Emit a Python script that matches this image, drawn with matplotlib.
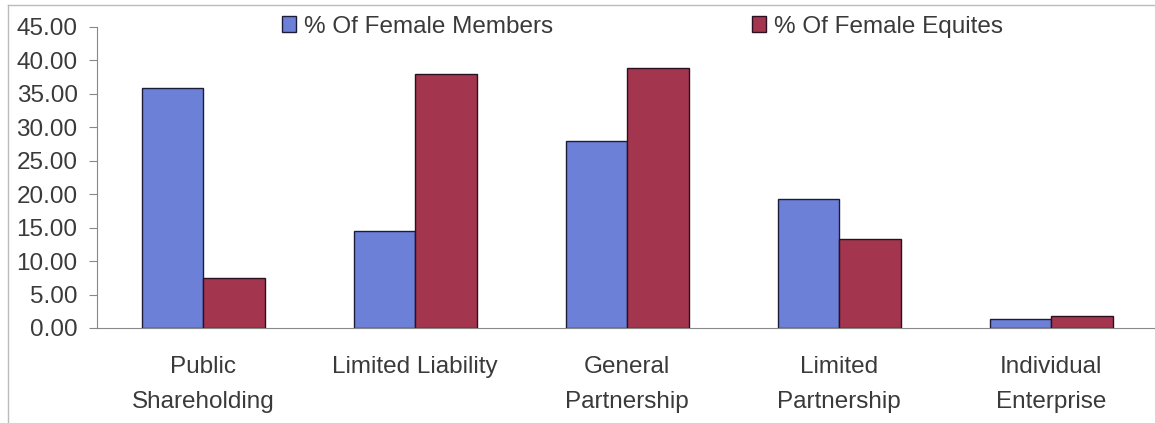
import numpy as np
import matplotlib.pyplot as plt
from matplotlib.lines import Line2D

categories = ["Public\nShareholding", "Limited Liability", "General\nPartnership",
              "Limited\nPartnership", "Individual\nEnterprise"]
female_members = [35.9, 14.5, 28.0, 19.2, 1.3]
female_equities = [7.5, 37.9, 38.8, 13.3, 1.8]
series_names = ["% Of Female Members", "% Of Female Equites"]

plt.rcParams['font.family'] = ['Liberation Sans', 'DejaVu Sans']
fs = 17.5

fig = plt.figure(figsize=(11.55, 4.23), dpi=100)
ax = fig.add_axes([0.084, 0.2246, 0.918, 0.712])

x = np.arange(len(categories))
w = 0.29
b1 = ax.bar(x - w / 2, female_members, w, color="#6c80d8", edgecolor="#1c1c3a", linewidth=1.0,
            label=series_names[0])
b2 = ax.bar(x + w / 2, female_equities, w, color="#a3354f", edgecolor="#2a1020", linewidth=1.0,
            label=series_names[1])

ax.set_xlim(-0.5, 4.5)
ax.set_ylim(0, 45)
ax.set_yticks(np.arange(0, 46, 5))
ax.set_yticklabels([f"{v:.2f}" for v in np.arange(0, 46, 5)], fontsize=fs, color="#3a3a3a")
ax.set_xticks(x)
ax.set_xticklabels(categories, fontsize=fs, color="#3a3a3a", linespacing=1.75)
ax.tick_params(axis="x", length=0, pad=20)
ax.tick_params(axis="y", length=6, color="#888888", pad=8)

for s in ["top", "right"]:
    ax.spines[s].set_visible(False)
ax.spines["left"].set_color("#888888")
ax.spines["bottom"].set_color("#888888")

# legend entries spread along the top like the original
fig.legend(handles=[b1], loc="center left", bbox_to_anchor=(0.244, 0.937), frameon=False,
           fontsize=fs, handlelength=0.6, handleheight=0.6, handletextpad=0.3,
           borderaxespad=0, borderpad=0, labelcolor="#3a3a3a")
fig.legend(handles=[b2], loc="center left", bbox_to_anchor=(0.651, 0.937), frameon=False,
           fontsize=fs, handlelength=0.6, handleheight=0.6, handletextpad=0.3,
           borderaxespad=0, borderpad=0, labelcolor="#3a3a3a")

# faint border of the scanned chart area
fig.add_artist(Line2D([0.007, 1.0], [0.988, 0.988], color="#bbbbbb", lw=1.0, transform=fig.transFigure))
fig.add_artist(Line2D([0.007, 0.007], [0.0, 0.988], color="#bbbbbb", lw=1.0, transform=fig.transFigure))

fig.savefig("out.png", dpi=100)
